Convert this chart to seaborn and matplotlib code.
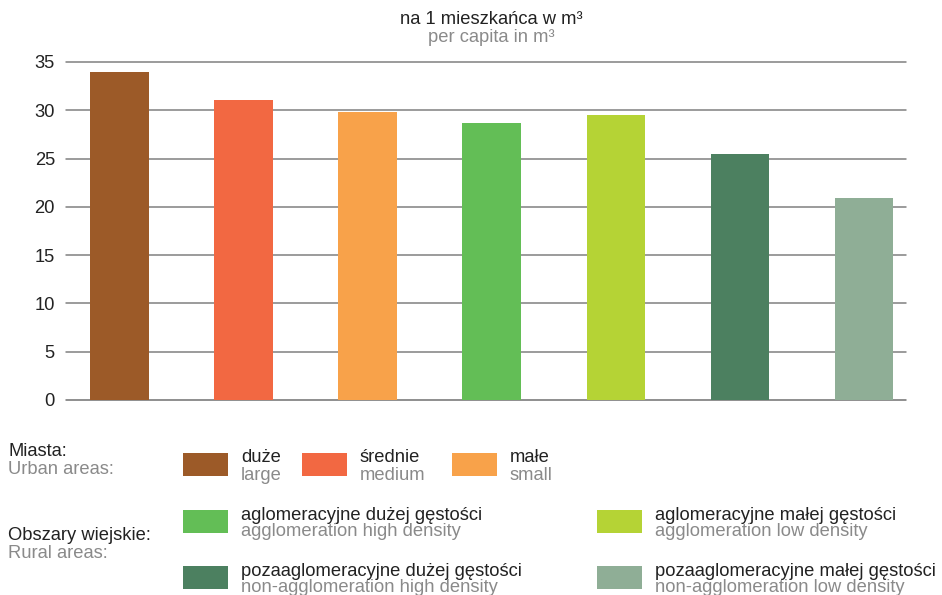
import matplotlib
matplotlib.use("Agg")
import matplotlib.pyplot as plt
import seaborn as sns
from matplotlib.patches import Rectangle

categories_pl = ["duże", "średnie", "małe",
                 "aglomeracyjne dużej gęstości", "aglomeracyjne małej gęstości",
                 "pozaaglomeracyjne dużej gęstości", "pozaaglomeracyjne małej gęstości"]
categories_en = ["large", "medium", "small",
                 "agglomeration high density", "agglomeration low density",
                 "non-agglomeration high density", "non-agglomeration low density"]
values = [34.0, 31.1, 29.8, 28.7, 29.5, 25.5, 20.9]
colors = ["#9C5A28", "#F26842", "#F8A24A", "#63BE56", "#B5D335", "#4C8060", "#8FAE96"]
yticks = [0, 5, 10, 15, 20, 25, 30, 35]
title_pl = "na 1 mieszkańca w m³"
title_en = "per capita in m³"
group_pl = ["Miasta:", "Obszary wiejskie:"]
group_en = ["Urban areas:", "Rural areas:"]

sns.set_theme(style="white")
plt.rcParams["font.family"] = ["Liberation Sans", "DejaVu Sans"]

W, H = 942, 595
FS = 13.2
fig = plt.figure(figsize=(W / 100, H / 100), dpi=100)
ax = fig.add_axes([66 / W, 1 - 400 / H, (906 - 66) / W, (400 - 62) / H])

sns.barplot(x=categories_pl, y=values, hue=categories_pl, palette=colors,
            legend=False, width=0.47, ax=ax, saturation=1, zorder=3, linewidth=0)

ax.set_xlim(-0.43, 6.34)
ax.set_ylim(0, 35)
ax.set_yticks(yticks)
ax.set_yticklabels([str(t) for t in yticks], fontsize=13.2, color="#222222")
ax.set_xticks([])
ax.set_xlabel("")
ax.set_ylabel("")
for t in yticks:
    ax.axhline(t, color="#808080" if t else "#707070", lw=1.1, zorder=1, clip_on=False)
for s in ax.spines.values():
    s.set_visible(False)
ax.tick_params(axis="y", length=0, pad=8)

# title
fig.text(491 / W, 1 - 19 / H, title_pl, ha="center", va="center", fontsize=FS, color="#222222")
fig.text(491 / W, 1 - 38 / H, title_en, ha="center", va="center", fontsize=FS, color="#8a8a8a")

# legend groups
fig.text(8 / W, 1 - 452 / H, group_pl[0], ha="left", va="center", fontsize=FS, color="#222222")
fig.text(8 / W, 1 - 470 / H, group_en[0], ha="left", va="center", fontsize=FS, color="#8a8a8a")
fig.text(8 / W, 1 - 535 / H, group_pl[1], ha="left", va="center", fontsize=FS, color="#222222")
fig.text(8 / W, 1 - 553 / H, group_en[1], ha="left", va="center", fontsize=FS, color="#8a8a8a")

# legend entries: (swatch x, swatch top y)
positions = [(183, 453), (302, 453), (452, 453),
             (183, 510), (597, 510),
             (183, 566), (597, 566)]
sw_w, sw_h = 45, 23
for i, (px, py) in enumerate(positions):
    fig.patches.append(Rectangle((px / W, 1 - (py + sw_h) / H), sw_w / W, sw_h / H,
                                 transform=fig.transFigure, color=colors[i], lw=0))
    tx = px + sw_w + 13
    fig.text(tx / W, 1 - (py + 5) / H, categories_pl[i], ha="left", va="center",
             fontsize=FS, color="#222222")
    fig.text(tx / W, 1 - (py + 22) / H, categories_en[i], ha="left", va="center",
             fontsize=FS, color="#8a8a8a")

fig.savefig("out.png", dpi=100, facecolor="white")
